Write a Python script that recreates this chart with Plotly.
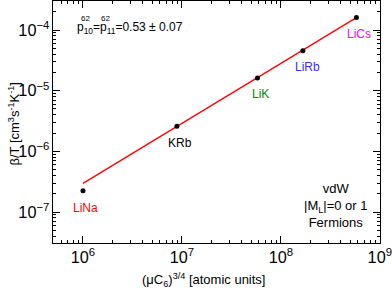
import math
import plotly.graph_objects as go

molecules = ["LiNa", "KRb", "LiK", "LiRb", "LiCs"]
x_vals = [1.0e6, 8.9e6, 5.8e7, 1.67e8, 5.8e8]
y_vals = [2.24e-7, 2.6e-6, 1.62e-5, 4.57e-5, 1.6e-4]
label_colors = ["#ff0000", "#000000", "#008800", "#3333ee", "#ff00ff"]
fit_x = [1.0e6, 5.8e8]
fit_y = [2.97e-7, 1.6e-4]

FONT = "Liberation Sans, Arial, sans-serif"

fig = go.Figure()
fig.add_trace(go.Scatter(x=fit_x, y=fit_y, mode="lines",
                         line=dict(color="#ff0000", width=1.3), showlegend=False))
fig.add_trace(go.Scatter(x=x_vals, y=y_vals, mode="markers",
                         marker=dict(color="black", size=5), showlegend=False))

# label offsets (pixels) relative to point
offsets = [(3, 17), (3, 17), (3, 16), (5, 16), (3, 16)]
for m, x, y, c, (dx, dy) in zip(molecules, x_vals, y_vals, label_colors, offsets):
    fig.add_annotation(x=math.log10(x), y=math.log10(y), xref="x", yref="y", text=m,
                       showarrow=False, xshift=dx, yshift=-dy,
                       font=dict(color=c, size=12, family=FONT))

fig.add_annotation(xref="paper", yref="paper", x=0.066, y=0.888, xanchor="left", yanchor="middle",
                   text="p<sub>10</sub>=p<sub>11</sub>=0.53 ± 0.07", showarrow=False,
                   font=dict(size=12, family=FONT, color="black"))
fig.add_annotation(xref="paper", yref="paper", x=0.078, y=0.928, xanchor="left", yanchor="middle",
                   text="62", showarrow=False, font=dict(size=8, family=FONT, color="black"))
fig.add_annotation(xref="paper", yref="paper", x=0.141, y=0.928, xanchor="left", yanchor="middle",
                   text="62", showarrow=False, font=dict(size=8, family=FONT, color="black"))

fig.add_annotation(xref="paper", yref="paper", x=0.865, y=0.153, xanchor="center", yanchor="middle",
                   text="vdW<br>|M<sub>L</sub>|=0 or 1<br>Fermions", showarrow=False,
                   font=dict(size=13, family=FONT, color="black"))

# axis titles as annotations
fig.add_annotation(xref="paper", yref="paper", x=0.459, y=-0.153, xanchor="center", yanchor="middle",
                   text="(μC<sub>6</sub>)<sup>3/4</sup> [atomic units]", showarrow=False,
                   font=dict(size=13, family=FONT, color="black"))
fig.add_annotation(xref="paper", yref="paper", x=-0.119, y=0.49, xanchor="center", yanchor="middle",
                   textangle=-90,
                   text="β/T [cm<sup>3</sup>s<sup>-1</sup>K<sup>-1</sup>]", showarrow=False,
                   font=dict(size=13, family=FONT, color="black"))

axis_common = dict(type="log", showgrid=False, zeroline=False, showline=True,
                   linecolor="black", linewidth=1, mirror="ticks", ticks="inside",
                   ticklen=7, tickcolor="black", exponentformat="power", automargin=False,
                   ticklabeloverflow="allow",
                   tickfont=dict(size=13, family=FONT, color="black"),
                   minor=dict(ticks="inside", ticklen=3, tickcolor="black", dtick="D1"))

fig.update_xaxes(**axis_common, range=[5.697, 9.002], dtick=1)
fig.update_yaxes(**axis_common, range=[-7.51, -3.522], dtick=1)

fig.update_layout(width=392, height=292, margin=dict(l=53, r=12, t=1, b=49),
                  plot_bgcolor="white", paper_bgcolor="white")

fig.write_html("out.html", config={"displayModeBar": False},
               post_script="document.body.style.margin='0';")
